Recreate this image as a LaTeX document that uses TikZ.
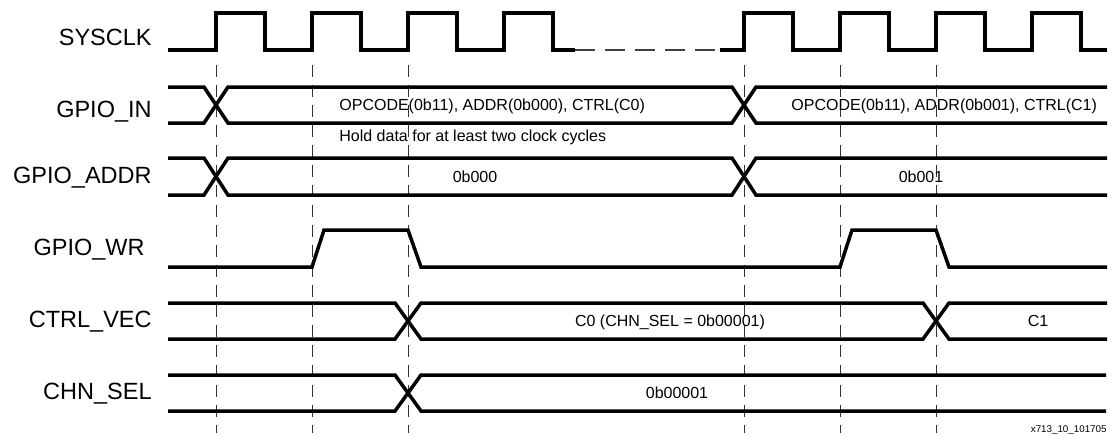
\documentclass[tikz,border=0pt]{standalone}
\usepackage{fontspec}
\setmainfont{Liberation Sans}
\usetikzlibrary{positioning}

\begin{document}
\begin{tikzpicture}[x=0.5pt, y=-0.5pt,
  sig/.style={line width=1.75pt, line join=miter},
  guide/.style={line width=0.5pt, black!80, dash pattern=on 6pt off 4pt},
  signame/.style={anchor=base east, inner sep=0pt, font=\fontsize{11.75}{14}\selectfont},
  busval/.style={inner sep=0pt, font=\fontsize{8}{10}\selectfont}]
\useasboundingbox (0,0) rectangle (1120,435);

% Clock-edge guides
\foreach \x in {216, 312, 408, 744, 840, 936} {
  \draw[guide] (\x,65) -- (\x,433);
}

% Signal names
\node[signame] (nclk) at (152,45) {SYSCLK};
\node[signame] (nin) at (152,117) {GPIO\_IN};
\node[signame] (naddr) at (152,183) {GPIO\_ADDR};
\node[signame] (nwr) at (145,255) {GPIO\_WR};
\node[signame] (nvec) at (152,327) {CTRL\_VEC};
\node[signame] (nsel) at (152,399) {CHN\_SEL};

% SYSCLK
\draw[sig] (168,50) foreach \t in {216, 312, 408, 504} {
  -- (\t,50) -- (\t,13) -- (\t+49,13) -- (\t+49,50) } -- (575,50);
\draw[line width=0.75pt, black!75, dash pattern=on 10pt off 5pt] (575,50) -- (720,50);
\draw[sig] (720,50) foreach \t in {744, 840, 936, 1032} {
  -- (\t,50) -- (\t,13) -- (\t+49,13) -- (\t+49,50) } -- (1107,50);

% GPIO_IN
\draw[sig] (168,87) -- (204,87) -- (228,123) -- (732,123) -- (756,87) -- (1107,87);
\draw[sig] (168,123) -- (204,123) -- (228,87) -- (732,87) -- (756,123) -- (1107,123);
\node[busval, anchor=base west] (vin0) at (339,110) {OPCODE(0b11), ADDR(0b000), CTRL(C0)};
\node[busval, anchor=base west] (vin1) at (791,110) {OPCODE(0b11), ADDR(0b001), CTRL(C1)};
\node[busval, anchor=base west] (vhold) at (339,141) {Hold data for at least two clock cycles};

% GPIO_ADDR
\draw[sig] (168,158) -- (204,158) -- (228,195) -- (732,195) -- (756,158) -- (1107,158);
\draw[sig] (168,195) -- (204,195) -- (228,158) -- (732,158) -- (756,195) -- (1107,195);
\node[busval, anchor=base] (vaddr0) at (475,182) {0b000};
\node[busval, anchor=base] (vaddr1) at (921,182) {0b001};

% GPIO_WR
\draw[sig] (168,267) -- (312,267) -- (324,230) -- (408,230) -- (421,267)
  -- (840,267) -- (852,230) -- (936,230) -- (949,267) -- (1107,267);

% CTRL_VEC
\draw[sig] (168,303) -- (395,303) -- (421,339) -- (923,339) -- (949,303) -- (1107,303);
\draw[sig] (168,339) -- (395,339) -- (421,303) -- (923,303) -- (949,339) -- (1107,339);
\node[busval, anchor=base] (vvec0) at (670,326) {C0 (CHN\_SEL = 0b00001)};
\node[busval, anchor=base] (vvec1) at (1038,326) {C1};

% CHN_SEL
\draw[sig] (168,375) -- (395,375) -- (421,411) -- (1106,411);
\draw[sig] (168,411) -- (395,411) -- (421,375) -- (1106,375);
\node[busval, anchor=base] (vsel) at (677,398) {0b00001};

% Figure tag
\node[inner sep=0pt, anchor=base east, font=\fontsize{4.9}{6}\selectfont] (tag) at (1107,432) {x713\_10\_101705};

\end{tikzpicture}
\end{document}
